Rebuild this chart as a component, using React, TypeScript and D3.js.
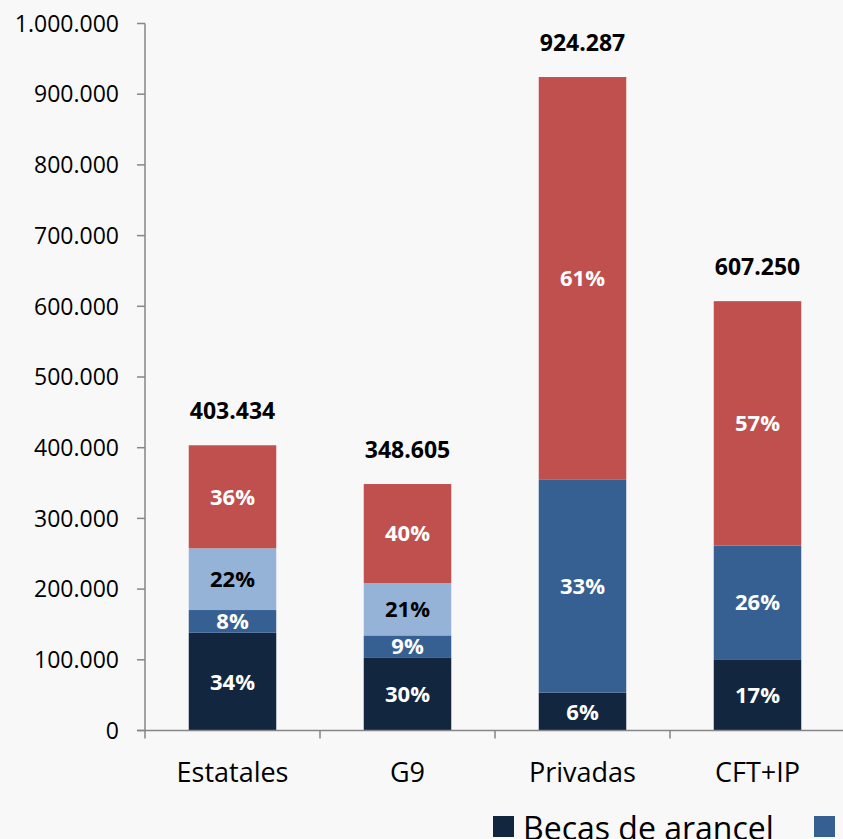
import React from "react";
import * as d3 from "d3";

const categories = ["Estatales", "G9", "Privadas", "CFT+IP"];
const totals = [403434, 348605, 924287, 607250];
const seriesNames = ["Becas de arancel", "s2", "s3", "s4"];
const becasArancel = [138300, 103500, 53500, 100700];
const serie2 = [32100, 31000, 301800, 160700];
const serie3 = [87300, 74000, 0, 0];
const serie4 = [145734, 140105, 568987, 345850];
const pctLabels = [
  ["34%", "30%", "6%", "17%"],
  ["8%", "9%", "33%", "26%"],
  ["22%", "21%", "", ""],
  ["36%", "40%", "61%", "57%"],
];
const yTicks = [0, 100000, 200000, 300000, 400000, 500000, 600000, 700000, 800000, 900000, 1000000];

const colors = ["#13263F", "#376092", "#95B3D7", "#C0504D"];
const labelColors = ["#ffffff", "#ffffff", "#000000", "#ffffff"];
const FONT = "'Open Sans', 'Noto Sans', sans-serif";

export default function App() {
  const W = 843, H = 839;
  const x = d3.scaleBand<string>().domain(categories).range([145, 845]).paddingInner(0.5).paddingOuter(0.25);
  const y = d3.scaleLinear().domain([0, 1000000]).range([730.5, 23.5]);
  const fmt = (v: number) => d3.format(",")(v).replace(/,/g, ".");

  const rows = categories.map((c, i) => ({
    cat: c,
    s0: becasArancel[i],
    s1: serie2[i],
    s2: serie3[i],
    s3: serie4[i],
  }));
  const stack = d3.stack<any>().keys(["s0", "s1", "s2", "s3"]);
  const layers = stack(rows);
  const axisColor = "#868686";
  const bounds = x.domain().map((_, i) => 145 + i * x.step());
  bounds.push(145 + categories.length * x.step());

  return (
    <svg width={W} height={H} style={{ position: "absolute", left: 0, top: 0, fontFamily: FONT }}>
      <rect x={0} y={0} width={W} height={H} fill="#f8f8f8" />
      {layers.map((layer, li) =>
        layer.map((d, ci) => {
          const h = y(d[0]) - y(d[1]);
          if (h <= 0) return null;
          const bx = x(categories[ci])!;
          return (
            <g key={`${li}-${ci}`}>
              <rect x={bx} y={y(d[1])} width={x.bandwidth()} height={h} fill={colors[li]} />
              {pctLabels[li][ci] && (
                <text
                  x={bx + x.bandwidth() / 2}
                  y={(y(d[0]) + y(d[1])) / 2}
                  dy="0.36em"
                  textAnchor="middle"
                  fontWeight="bold"
                  fontSize={22}
                  fill={labelColors[li]}
                >
                  {pctLabels[li][ci]}
                </text>
              )}
            </g>
          );
        })
      )}
      {categories.map((c, i) => (
        <text key={c + "t"} x={x(c)! + x.bandwidth() / 2} y={y(totals[i]) - 26} textAnchor="middle" fontWeight="bold" fontSize={23} fill="#000">
          {fmt(totals[i])}
        </text>
      ))}
      {/* y axis */}
      <line x1={145} x2={145} y1={y(1000000)} y2={y(0)} stroke={axisColor} strokeWidth={1.5} />
      {yTicks.map((t) => (
        <g key={t}>
          <line x1={137} x2={145} y1={y(t)} y2={y(t)} stroke={axisColor} strokeWidth={1.5} />
          <text x={119} y={y(t)} dy="0.36em" textAnchor="end" fontSize={23} fill="#000">
            {fmt(t)}
          </text>
        </g>
      ))}
      {/* x axis */}
      <line x1={137} x2={845} y1={y(0)} y2={y(0)} stroke={axisColor} strokeWidth={1.5} />
      {bounds.map((b, i) => (
        <line key={i} x1={b} x2={b} y1={y(0)} y2={y(0) + 8} stroke={axisColor} strokeWidth={1.5} />
      ))}
      {categories.map((c) => (
        <text key={c} x={x(c)! + x.bandwidth() / 2} y={782} textAnchor="middle" fontSize={27} fill="#000">
          {c}
        </text>
      ))}
      {/* legend */}
      <rect x={493} y={816} width={21} height={21} fill={colors[0]} />
      <text x={523} y={840} fontSize={32} fill="#000">{seriesNames[0]}</text>
      <rect x={814} y={816} width={21} height={21} fill={colors[1]} />
    </svg>
  );
}
